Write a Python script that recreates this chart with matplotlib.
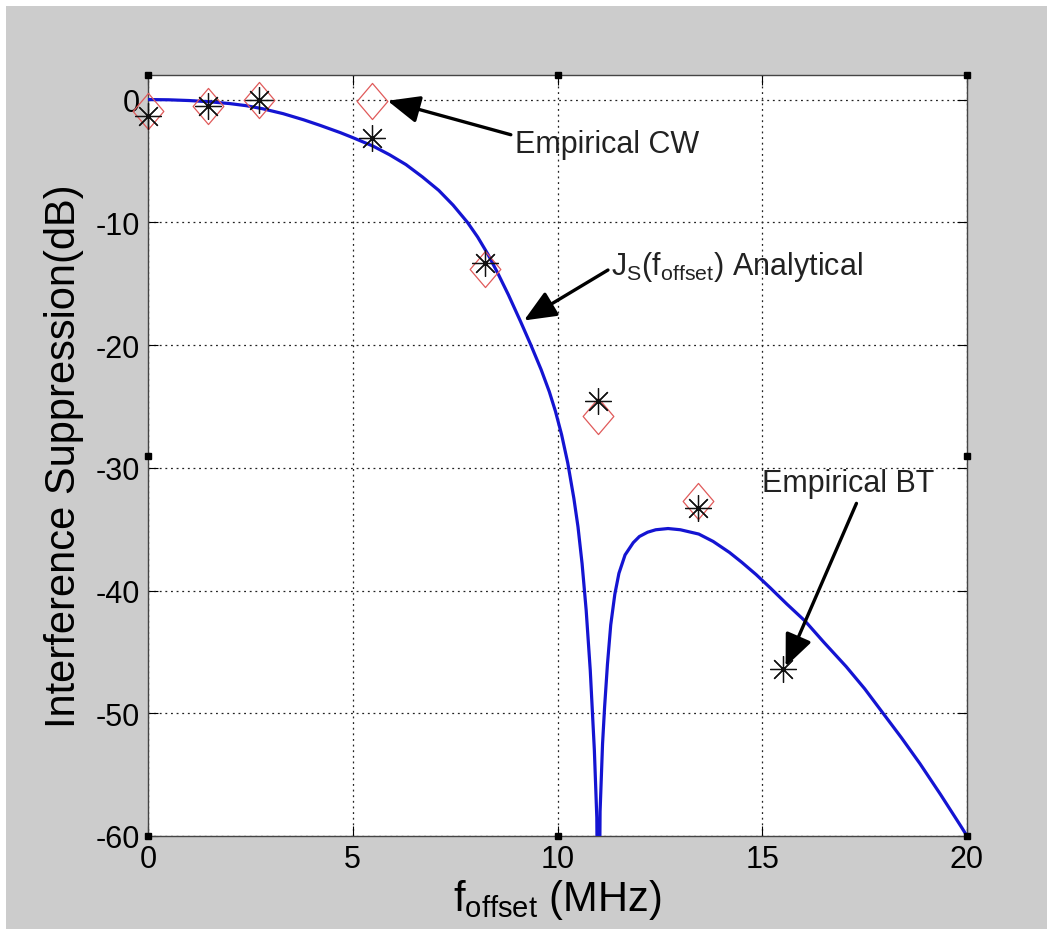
import matplotlib.pyplot as plt
from matplotlib.patches import Rectangle
from matplotlib.path import Path

plt.rcParams['font.family'] = ['Liberation Sans', 'DejaVu Sans']
plt.rcParams['mathtext.fontset'] = 'custom'
plt.rcParams['mathtext.rm'] = 'Liberation Sans'
plt.rcParams['mathtext.it'] = 'Liberation Sans'
plt.rcParams['axes.unicode_minus'] = False

# Analytical suppression curve J_S(f_offset)
f_curve = [0, 0.5, 1.0, 1.5, 2.0, 2.4, 2.8, 3.3, 3.8, 4.2, 4.7, 5.0, 5.5, 5.9,
           6.3, 6.7, 7.1, 7.45, 7.8, 8.05, 8.3, 8.55, 8.8, 9.1, 9.35, 9.6,
           9.8, 9.95, 10.1, 10.25, 10.4, 10.5, 10.6, 10.7, 10.8, 10.9, 10.96,
           11.0, 11.04, 11.1, 11.15, 11.22, 11.3, 11.4, 11.5, 11.65, 11.85,
           12.0, 12.2, 12.4, 12.7, 13.0, 13.45, 13.8, 14.2, 14.5, 14.85, 15.2,
           15.6, 16.05, 16.5, 17.05, 17.5, 17.95, 18.4, 18.85, 19.35, 19.85,
           20.0]
js_curve = [0, -0.02, -0.08, -0.18, -0.33, -0.5, -0.75, -1.15, -1.65, -2.1,
            -2.7, -3.1, -3.8, -4.5, -5.3, -6.3, -7.4, -8.6, -10.0, -11.2,
            -12.6, -14.2, -15.9, -18.1, -20.0, -22.0, -23.8, -25.4, -27.3,
            -29.6, -32.5, -34.8, -37.8, -41.6, -46.5, -53.0, -58.5,
            -75.0, -58.0, -52.5, -49.5, -46.0, -42.8, -40.3, -38.6, -37.1,
            -36.1, -35.6, -35.25, -35.05, -34.95, -35.05, -35.4, -36.0, -36.9,
            -37.7, -38.7, -39.8, -41.1, -42.5, -44.2, -46.2, -48.0, -50.0,
            -52.0, -54.1, -56.6, -59.2, -60.0]

# Measured points
cw_f = [0, 1.46, 2.72, 5.47, 8.23, 11.0, 13.42]
cw_db = [-0.9, -0.5, 0.0, -0.1, -13.8, -25.8, -32.7]
bt_f = [0, 1.46, 2.72, 5.47, 8.23, 11.0, 13.42, 15.5]
bt_db = [-1.3, -0.55, -0.05, -3.1, -13.3, -24.6, -33.3, -46.4]

fig = plt.figure(figsize=(10.53, 9.37), dpi=100, facecolor='white')
fig.patches.append(Rectangle((6 / 1053, 7 / 937), 1041 / 1053, 923 / 937,
                             transform=fig.transFigure, facecolor='#cccccc',
                             edgecolor='none', zorder=-10))
ax = fig.add_axes([148 / 1053, 100 / 937, 819 / 1053, 761 / 937])

# MATLAB style diamond (slightly taller than wide)
diamond = Path([(0, 1), (0.85, 0), (0, -1), (-0.85, 0), (0, 1)],
               [Path.MOVETO, Path.LINETO, Path.LINETO, Path.LINETO, Path.CLOSEPOLY])

ax.plot(f_curve, js_curve, color='#1414d2', lw=2.3, zorder=3,
        solid_joinstyle='round')
ax.plot(cw_f, cw_db, ls='none', marker=diamond, ms=26, mfc='none',
        mec='#e05a5a', mew=0.9, clip_on=False, zorder=4)
ax.plot(bt_f, bt_db, ls='none', marker=(8, 2, 0), ms=19, color='#111111',
        mew=0.9, clip_on=False, zorder=5)

ax.set_xlim(0, 20)
ax.set_ylim(-60, 2)
ax.set_xticks([0, 5, 10, 15, 20])
ax.set_yticks([0, -10, -20, -30, -40, -50, -60])
ax.grid(True, color='#222222', ls=(0, (1.5, 3)), lw=0.9)
ax.tick_params(direction='in', length=7, width=0.8, labelsize=22,
               top=True, right=True, pad=6)
for s in ax.spines.values():
    s.set_color('#444444')
    s.set_linewidth(1.0)

# thick corner / mid ticks drawn as small squares
sq_x = [0, 0.5, 1, 0, 1, 0, 0.5, 1]
sq_y = [0, 0, 0, 0.5, 0.5, 1, 1, 1]
ax.plot(sq_x, sq_y, ls='none', marker='s', ms=5, color='black',
        transform=ax.transAxes, clip_on=False, zorder=6)

ax.set_xlabel(r'$\mathregular{f_{offset}}$ (MHz)', fontsize=30, labelpad=2)
ax.set_ylabel('Interference Suppression(dB)', fontsize=30, labelpad=8)

arrow = dict(arrowstyle='-|>,head_length=0.7,head_width=0.3', color='black',
             lw=2.4, mutation_scale=28, shrinkA=0, shrinkB=0)
ax.annotate('Empirical CW', xy=(5.85, -0.1), xytext=(8.95, -3.6),
            fontsize=22, va='center', ha='left', color='#222222',
            arrowprops=dict(arrow, relpos=(-0.02, 0.8)))
ax.annotate(r'$\mathregular{J_S(f_{offset})}$ Analytical', xy=(9.18, -18.0),
            xytext=(11.3, -13.6), fontsize=22, va='center', ha='left',
            color='#222222', arrowprops=dict(arrow, relpos=(-0.01, 0.4)))
ax.text(15.0, -31.2, 'Empirical BT', fontsize=22, va='center', ha='left',
        color='#222222')
ax.annotate('', xy=(15.57, -46.2), xytext=(17.3, -32.9), arrowprops=arrow)

fig.savefig('out.png', dpi=100, facecolor=fig.get_facecolor())
